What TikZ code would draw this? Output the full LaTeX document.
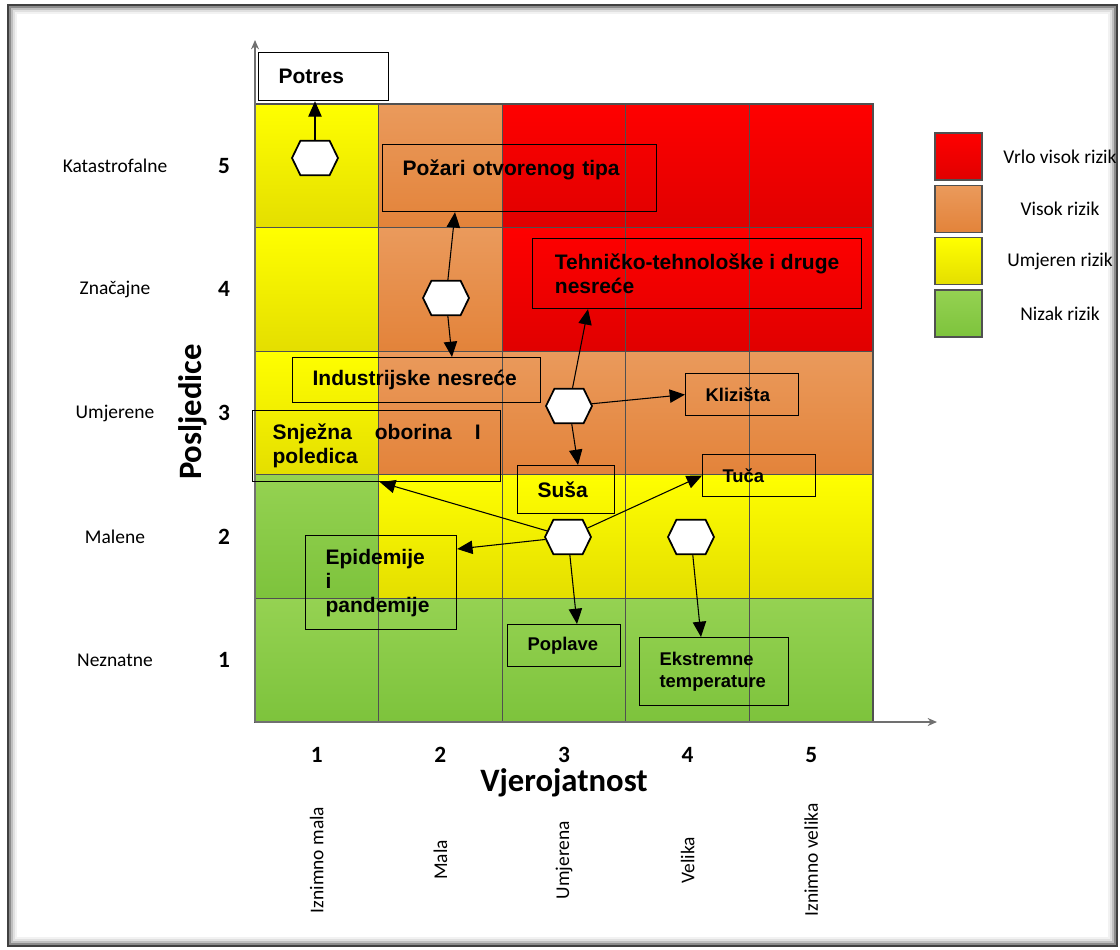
\documentclass[tikz,border=0pt]{standalone}
\usepackage{fontspec}
\setmainfont{Liberation Sans}
\newfontfamily\califont{Carlito}
\usetikzlibrary{arrows.meta,calc,shapes.symbols}
\hyphenpenalty=10000
\exhyphenpenalty=10000

\definecolor{riskRtop}{HTML}{FF0000}
\definecolor{riskRbot}{HTML}{E00000}
\definecolor{riskOtop}{HTML}{EA9A5C}
\definecolor{riskObot}{HTML}{E3833A}
\definecolor{riskYtop}{HTML}{FFFF00}
\definecolor{riskYbot}{HTML}{E4DE00}
\definecolor{riskGtop}{HTML}{95D252}
\definecolor{riskGbot}{HTML}{7DC33C}
\definecolor{gridgray}{HTML}{505050}
\definecolor{axisgray}{HTML}{707070}

\begin{document}
\begin{tikzpicture}[
    x=0.75pt, y=-0.75pt,
    box/.style={
        draw,
        line width=0.9pt,
        inner xsep=15pt,
        align=left,
        anchor=north west,
        font=\bfseries\fontsize{15.75}{18}\selectfont
    },
    smallbox/.style={
        box,
        font=\bfseries\fontsize{13.8}{16.5}\selectfont
    },
    hexa/.style={
        signal,
        signal to=east and west,
        signal pointer angle=128,
        draw,
        fill=white,
        line width=1.3pt,
        minimum width=34.5pt,
        minimum height=26pt,
        inner sep=0pt
    },
    arrow/.style={
        -{Triangle[length=11.5pt,width=10pt]},
        line width=0.8pt
    },
    axisline/.style={
        draw=axisgray,
        line width=1.1pt,
        -{Stealth[length=7pt,width=6pt]}
    },
    grade/.style={
        font=\califont\fontsize{14.6}{17}\selectfont
    },
    num/.style={
        font=\califont\bfseries\fontsize{17.5}{20}\selectfont
    },
    axtitle/.style={
        font=\califont\bfseries\fontsize{24.5}{28}\selectfont
    },
    legendbox/.style={
        draw=gridgray,
        line width=1.1pt
    }
]

% Frame
\useasboundingbox (0,0) rectangle (1120,949);
\foreach \d/\shadepct in {0/75,2/45,4/25,6/12,8/5}
    \draw[black!\shadepct, line width=1.6pt] (8+\d,5+\d) rectangle (1117-\d,946-\d);

% Risk matrix
\foreach \row/\cols in {5/{Y,O,R,R,R}, 4/{Y,O,R,R,R}, 3/{Y,O,O,O,O}, 2/{G,Y,Y,Y,Y}, 1/{G,G,G,G,G}}
    \foreach \colr [count=\k] in \cols
        \shade[top color=risk\colr top, bottom color=risk\colr bot]
            (255+123.6*\k-123.6, 722-123.6*\row) rectangle ++(123.6,123.6);

\foreach \i in {1,...,4} {
    \draw[gridgray, line width=0.8pt] (255+123.6*\i,104) -- (255+123.6*\i,722);
    \draw[gridgray, line width=0.8pt] (255,104+123.6*\i) -- (873,104+123.6*\i);
}
\draw[gridgray, line width=0.8pt] (255,104) rectangle (873,722);

% Axes
\coordinate (O) at (255,722);
\coordinate (ytop) at (255,40);
\coordinate (xend) at (937,722);
\draw[axisline] (O) -- (ytop);
\draw[axisline] (O) -- (xend);

\foreach \t [count=\i] in {Neznatne,Malene,Umjerene,Značajne,Katastrofalne} {
    \node[grade] (yl\i) at (115,783.8-123.6*\i) {\t};
    \node[num] (yn\i) at (224,783.8-123.6*\i) {\i};
}
\foreach \t [count=\i] in {Iznimno mala,Mala,Umjerena,Velika,Iznimno velika} {
    \node[num] (xn\i) at (193.2+123.6*\i,755) {\i};
    \node[grade, rotate=90] (xl\i) at (193.2+123.6*\i,860) {\t};
}
\node[axtitle] (xtitle) at (564,783) {Vjerojatnost};
\node[axtitle, rotate=90] (ytitle) at (193,412) {Posljedice};

% Legend
\foreach \colr/\t [count=\i] in {R/Vrlo visok rizik, O/Visok rizik, Y/Umjeren rizik, G/Nizak rizik} {
    \shade[top color=risk\colr top, bottom color=risk\colr bot, legendbox]
        (935,80.7+52.3*\i) rectangle ++(47,47);
    \node[grade] (lg\i) at (1060,104.5+52.3*\i) {\t};
}

% Hazards
\node[box, fill=white, text width=67.5pt, minimum height=36pt] (potres) at (258,52) {Potres};
\node[box, text width=175.5pt, minimum height=50.25pt, text height=11.5pt, text depth=15.5pt] (pozari) at (382,144) {Požari otvorenog tipa};
\node[box, minimum width=246.75pt, minimum height=52.5pt] (tehno) at (532,238) {Tehničko-tehnološke i druge\\nesreće};
\node[box, text width=156pt, minimum height=33.75pt] (indust) at (292,357) {Industrijske nesreće};
\node[box, text width=156pt, minimum height=53.25pt] (snijeg) at (252,410) {Snježna\hfill oborina\hfill I\\poledica};
\node[smallbox, text width=54.75pt, minimum height=31.5pt] (klizista) at (685,373) {Klizišta};
\node[smallbox, text width=54.75pt, minimum height=31.5pt] (tuca) at (702,454) {Tuča};
\node[box, text width=42.75pt, minimum height=36pt] (susa) at (517,465) {Suša};
\node[box, text width=83.25pt, minimum height=70.5pt] (epidem) at (305,535) {Epidemije\\i\\pandemije};
\node[smallbox, text width=54.75pt, minimum height=31.5pt] (poplave) at (507,624) {Poplave};
\node[smallbox, text width=81.75pt, minimum height=51pt] (ekstrem) at (639,637) {Ekstremne\\temperature};

% Event nodes
\node[hexa] (h1) at (315,158) {};
\node[hexa] (h2) at (446,298) {};
\node[hexa] (h3) at (569,406) {};
\node[hexa] (h4) at (568,537) {};
\node[hexa] (h5) at (691,537) {};

% Arrows
\draw[arrow] (h1) -- (h1 |- potres.south);
\draw[arrow] (h2) -- ($(pozari.south west)+(73,0)$);
\draw[arrow] (h2) -- ($(indust.north west)+(160,0)$);
\draw[arrow] (h3) -- ($(tehno.south west)+(56,0)$);
\draw[arrow] (h3) -- (klizista.west);
\draw[arrow] (h3) -- ($(susa.north west)+(61,0)$);
\draw[arrow] (h4) -- ($(snijeg.south west)+(128,0)$);
\draw[arrow] (h4) -- (tuca.west);
\draw[arrow] (h4) -- ($(epidem.north east)+(0,14)$);
\draw[arrow] (h4) -- ($(poplave.north west)+(70,0)$);
\draw[arrow] (h5) -- ($(ekstrem.north west)+(62,0)$);
\end{tikzpicture}
\end{document}
